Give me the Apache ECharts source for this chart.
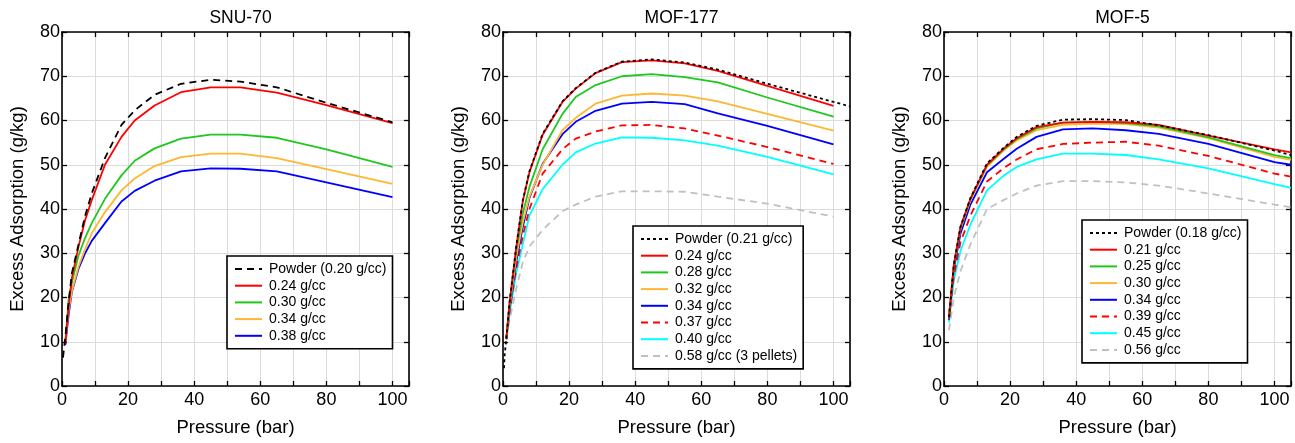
<!DOCTYPE html>
<html>
<head>
<meta charset="utf-8">
<script src="https://cdn.jsdelivr.net/npm/echarts@6/dist/echarts.min.js"></script>
<style>
html,body{margin:0;padding:0;background:#fff;}
#c{width:1295px;height:443px;}
</style>
</head>
<body>
<div id="c"></div>
<script>
// ---------- DATA ----------
var panelTitles = ['SNU-70', 'MOF-177', 'MOF-5'];
var xTicks = [0, 20, 40, 60, 80, 100];
var yTicks = [0, 10, 20, 30, 40, 50, 60, 70, 80];

// SNU-70
var snuPowderP = [0.3, 1, 2, 3, 5, 7, 9, 13, 18, 22, 28, 36, 45, 54, 65, 80, 100];
var snuPowder  = [6.4, 11, 19, 25.5, 32, 38.5, 43.5, 51.5, 59, 62.3, 65.8, 68.3, 69.2, 68.8, 67.5, 64, 59.6];
var snuP    = [1, 2, 3, 5, 7, 9, 13, 18, 22, 28, 36, 45, 54, 65, 80, 100];
var snu024  = [9.5, 18, 24.5, 31.5, 37.5, 42, 50, 56.3, 60, 63.4, 66.4, 67.5, 67.5, 66.3, 63.5, 59.4];
var snu030  = [10, 19.5, 23.5, 29.5, 33.5, 36.8, 42.3, 47.6, 50.9, 53.7, 55.9, 56.8, 56.8, 56.1, 53.5, 49.5];
var snu034  = [10, 17, 21.5, 27, 31, 34.5, 39.3, 44.2, 46.9, 49.7, 51.7, 52.5, 52.5, 51.5, 49, 45.7];
var snu038  = [9.3, 16, 21.3, 26.5, 30, 32.8, 36.8, 41.7, 44.1, 46.4, 48.5, 49.2, 49.1, 48.5, 46, 42.7];

// MOF-177
var m177PowderP = [0.3, 0.5, 1, 2, 4, 6, 8, 12, 18, 22, 28, 36, 45, 55, 65, 80, 100, 105];
var m177Powder  = [4, 7, 10.6, 19, 31.5, 42, 48.5, 57, 64.3, 67.3, 70.8, 73.3, 73.8, 73.1, 71.5, 68.3, 64.2, 63.2];
var m177P   = [1, 2, 4, 6, 8, 12, 18, 22, 28, 36, 45, 55, 65, 80, 100];
var m177024 = [10.6, 19, 31.3, 41.8, 48.3, 56.8, 64.2, 67.2, 70.7, 73.2, 73.6, 72.9, 71.2, 67.8, 63.3];
var m177028 = [10.6, 18.5, 30.5, 39, 45, 53.5, 61.5, 65.3, 68, 70, 70.5, 69.8, 68.6, 65.2, 60.9];
var m177032 = [10.6, 18, 29, 37, 42.8, 50, 57.8, 60.6, 63.8, 65.6, 66.1, 65.6, 64.3, 61.5, 57.7];
var m177034 = [10.6, 17.5, 28, 36, 42.5, 50.2, 56.9, 59.7, 62.2, 63.8, 64.2, 63.7, 61.6, 58.8, 54.6];
var m177037 = [10.6, 17, 26.5, 34, 40, 48, 53.5, 55.9, 57.5, 58.9, 59, 58.2, 56.6, 54, 50.2];
var m177040 = [10.6, 16.5, 25.5, 32, 38.5, 44.5, 50, 52.8, 54.8, 56.2, 56.1, 55.5, 54.3, 51.8, 47.8];
var m177058 = [10.6, 15, 22, 28, 31.5, 35.3, 39.5, 41, 42.8, 44, 44, 43.9, 42.8, 41.2, 38.3];

// MOF-5
var m5P      = [1.5, 3, 5, 8, 13, 18, 22, 28, 36, 45, 55, 65, 80, 100, 105];
var m5Powder = [15.5, 27.5, 36, 42.5, 50.3, 53.8, 56.3, 58.8, 60.2, 60.3, 60.1, 58.9, 56.7, 53.2, 52.2];
var m5021    = [15.5, 27.5, 36, 42.3, 50, 53.6, 56, 58.5, 59.5, 59.7, 59.6, 59, 56.6, 53.5, 52.8];
var m5025    = [15.5, 27.5, 35.8, 42.2, 49.8, 53.4, 55.8, 58.2, 59.5, 59.7, 59.4, 58.7, 56.2, 52.2, 51.5];
var m5030    = [15.3, 27.3, 35.5, 42, 49.5, 53.2, 55.5, 57.8, 59, 59.3, 59.2, 58.4, 56, 51.8, 51.1];
var m5034    = [15, 26.5, 34.5, 41, 48.3, 51.3, 53.6, 56.3, 58, 58.2, 57.8, 57, 54.7, 50.6, 50];
var m5039    = [15, 25, 32.5, 38.5, 46.2, 49.2, 51.2, 53.5, 54.7, 55, 55.2, 54.3, 52, 48, 47.3];
var m5045    = [14.4, 24, 30.5, 36.5, 44.2, 47.5, 49.5, 51.2, 52.5, 52.5, 52.2, 51.2, 49.2, 45.6, 44.8];
var m5056    = [12.6, 20, 26, 32, 40, 42, 43.5, 45.3, 46.3, 46.3, 46, 45.3, 43.5, 41, 40.4];

// ---------- STYLES ----------
var RED = '#ff0000', GREEN = '#1ec81e', ORANGE = '#ffb733', BLUE = '#0000ff',
    CYAN = '#00ffff', GRAY = '#c0c0c0', BLACK = '#000000';
var FONT = 'Liberation Sans, Arial, sans-serif';

function zip(xs, ys) { return xs.map(function (x, i) { return [x, ys[i]]; }); }

// lines listed in legend order (top to bottom)
var panels = [
  { lines: [
      { label: 'Powder (0.20 g/cc)', x: snuPowderP, y: snuPowder, color: BLACK, type: [7, 5], top: true },
      { label: '0.24 g/cc', x: snuP, y: snu024, color: RED, type: 'solid' },
      { label: '0.30 g/cc', x: snuP, y: snu030, color: GREEN, type: 'solid' },
      { label: '0.34 g/cc', x: snuP, y: snu034, color: ORANGE, type: 'solid' },
      { label: '0.38 g/cc', x: snuP, y: snu038, color: BLUE, type: 'solid' }
    ], legendLeft: 227, legendTop: 256 },
  { lines: [
      { label: 'Powder (0.21 g/cc)', x: m177PowderP, y: m177Powder, color: BLACK, type: [3, 3], top: true },
      { label: '0.24 g/cc', x: m177P, y: m177024, color: RED, type: 'solid' },
      { label: '0.28 g/cc', x: m177P, y: m177028, color: GREEN, type: 'solid' },
      { label: '0.32 g/cc', x: m177P, y: m177032, color: ORANGE, type: 'solid' },
      { label: '0.34 g/cc', x: m177P, y: m177034, color: BLUE, type: 'solid' },
      { label: '0.37 g/cc', x: m177P, y: m177037, color: RED, type: [7, 5] },
      { label: '0.40 g/cc', x: m177P, y: m177040, color: CYAN, type: 'solid' },
      { label: '0.58 g/cc (3 pellets)', x: m177P, y: m177058, color: GRAY, type: [7, 5] }
    ], legendLeft: 633, legendTop: 226 },
  { lines: [
      { label: 'Powder (0.18 g/cc)', x: m5P, y: m5Powder, color: BLACK, type: [3, 3], top: true },
      { label: '0.21 g/cc', x: m5P, y: m5021, color: RED, type: 'solid' },
      { label: '0.25 g/cc', x: m5P, y: m5025, color: GREEN, type: 'solid' },
      { label: '0.30 g/cc', x: m5P, y: m5030, color: ORANGE, type: 'solid' },
      { label: '0.34 g/cc', x: m5P, y: m5034, color: BLUE, type: 'solid' },
      { label: '0.39 g/cc', x: m5P, y: m5039, color: RED, type: [7, 5] },
      { label: '0.45 g/cc', x: m5P, y: m5045, color: CYAN, type: 'solid' },
      { label: '0.56 g/cc', x: m5P, y: m5056, color: GRAY, type: [7, 5] }
    ], legendLeft: 1082, legendTop: 220 }
];

var gridLefts = [62, 503, 944];
var GW = 347, GT = 32, GH = 354;

var option = {
  animation: false,
  backgroundColor: '#fff',
  textStyle: { fontFamily: FONT, color: '#000' },
  title: [], grid: [], xAxis: [], yAxis: [], legend: [], series: []
};

panels.forEach(function (p, i) {
  option.title.push({
    text: panelTitles[i], left: gridLefts[i] + GW / 2, top: 4, textAlign: 'center',
    textStyle: { fontFamily: FONT, fontSize: 17.5, fontWeight: 'normal', color: '#000' }
  });
  option.grid.push({ left: gridLefts[i], top: GT, width: GW, height: GH });

  var axisLine = { show: true, onZero: false, lineStyle: { color: '#000', width: 1.6 } };
  var tick = { show: true, inside: true, length: 5, lineStyle: { color: '#000', width: 1.3 } };
  var split = { show: true, lineStyle: { color: '#dcdcdc', width: 1 } };

  option.xAxis.push({
    type: 'value', gridIndex: i, min: 0, max: 105, interval: 10, position: 'bottom',
    name: 'Pressure (bar)', nameLocation: 'middle', nameGap: 32,
    nameTextStyle: { fontFamily: FONT, fontSize: 18.5, color: '#000' },
    axisLine: axisLine, axisTick: tick, splitLine: split,
    axisLabel: { margin: 5, fontFamily: FONT, fontSize: 18, color: '#000',
      formatter: function (v) { return xTicks.indexOf(v) >= 0 ? String(v) : ''; } }
  });
  option.xAxis.push({
    type: 'value', gridIndex: i, min: 0, max: 105, interval: 10, position: 'top',
    axisLine: axisLine, axisTick: tick, splitLine: { show: false }, axisLabel: { show: false }
  });
  option.yAxis.push({
    type: 'value', gridIndex: i, min: 0, max: 80, interval: 10, position: 'left',
    name: 'Excess Adsorption (g/kg)', nameLocation: 'middle', nameGap: 35,
    nameTextStyle: { fontFamily: FONT, fontSize: 18.5, color: '#000' },
    axisLine: axisLine, axisTick: tick, splitLine: split,
    axisLabel: { margin: 2, fontFamily: FONT, fontSize: 18, color: '#000',
      formatter: function (v) { return yTicks.indexOf(v) >= 0 ? String(v) : ''; } }
  });
  option.yAxis.push({
    type: 'value', gridIndex: i, min: 0, max: 80, interval: 10, position: 'right',
    axisLine: axisLine, axisTick: tick, splitLine: { show: false }, axisLabel: { show: false }
  });

  var legendNames = p.lines.map(function (l) { return i + '|' + l.label; });

  // draw order: bottom-most legend entry first, powder on top
  var drawOrder = p.lines.filter(function (l) { return !l.top; }).reverse()
    .concat(p.lines.filter(function (l) { return l.top; }));
  drawOrder.forEach(function (l) {
    option.series.push({
      type: 'line', name: i + '|' + l.label,
      xAxisIndex: i * 2, yAxisIndex: i * 2,
      data: zip(l.x, l.y),
      showSymbol: false, symbol: 'none', smooth: false,
      color: l.color,
      lineStyle: { color: l.color, width: 1.8, type: l.type },
      emphasis: { disabled: true }
    });
  });

  option.legend.push({
    data: legendNames, orient: 'vertical', left: p.legendLeft, top: p.legendTop,
    itemWidth: 27, itemHeight: 14, itemGap: 2.7,
    backgroundColor: '#fff', borderColor: '#000', borderWidth: 1.6,
    padding: [6, 6, 6, 7], selectedMode: false,
    itemStyle: { color: 'rgba(0,0,0,0)', borderColor: 'rgba(0,0,0,0)', borderWidth: 0, opacity: 0 },
    textStyle: { fontFamily: FONT, fontSize: 14, color: '#000', padding: [0, 0, 0, 2] },
    formatter: function (name) { return name.split('|')[1]; }
  });
});

var chart = echarts.init(document.getElementById('c'), null, { renderer: 'canvas' });
chart.setOption(option);
</script>
</body>
</html>
